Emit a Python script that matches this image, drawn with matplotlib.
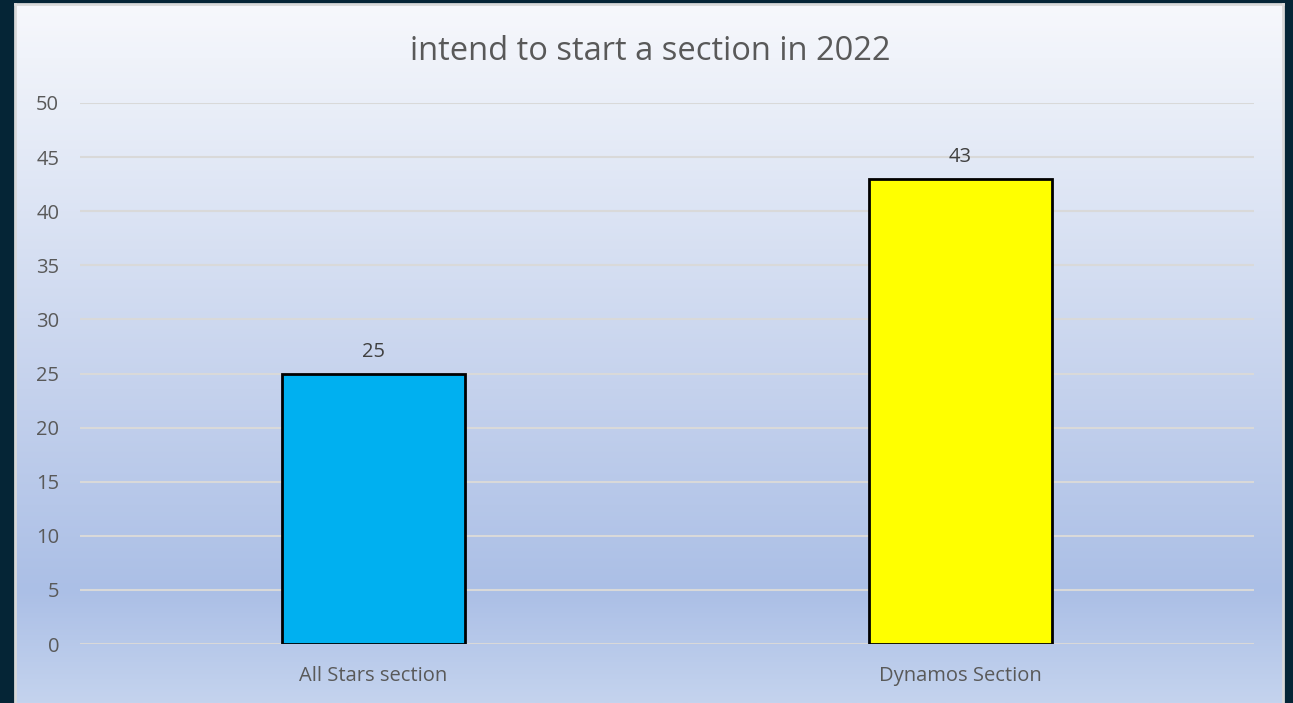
import numpy as np
from matplotlib import pyplot as plt
from matplotlib.colors import LinearSegmentedColormap

categories = ['All Stars section', 'Dynamos Section']
values = [25, 43]
bar_colors = ['#00b0f0', '#ffff00']
title = 'intend to start a section in 2022'

plt.rcParams['font.family'] = ['Open Sans', 'DejaVu Sans']

W, H = 1293, 703
fig = plt.figure(figsize=(W / 100, H / 100), dpi=100)
fig.patch.set_facecolor('#052536')

# panel with vertical gradient
bg = fig.add_axes([15 / W, 0, 1268 / W, 699 / H])
grad = LinearSegmentedColormap.from_list(
    'bg', [(0, '#f7f8fc'), (0.15, '#e9eef8'), (0.55, '#c5d2ed'),
           (0.84, '#abbfe6'), (1, '#c4d3ee')])
bg.imshow(np.linspace(0, 1, 256).reshape(-1, 1), aspect='auto', cmap=grad,
          extent=[0, 1, 0, 1], origin='upper')
bg.set_xticks([])
bg.set_yticks([])
for s in bg.spines.values():
    s.set_color('#d9d9d9')
    s.set_linewidth(2)
bg.spines['bottom'].set_visible(False)

ax = fig.add_axes([80 / W, (H - 644) / H, 1174 / W, 541 / H])
ax.patch.set_alpha(0)
x = np.arange(len(categories))
bars = ax.bar(x, values, width=0.312, color=bar_colors, edgecolor='black',
              linewidth=2, zorder=3)
for xi, v in zip(x, values):
    ax.text(xi, v + 1.1, str(v), ha='center', va='bottom', fontsize=14.5,
            color='#404040')

ax.set_xlim(-0.5, 1.5)
ax.set_ylim(0, 50)
ax.set_yticks(range(0, 51, 5))
ax.yaxis.grid(True, color='#d9d9d9', linewidth=1.5, zorder=0)
ax.set_xticks(x)
ax.set_xticklabels(categories)
ax.tick_params(axis='both', length=0, labelsize=14.5, labelcolor='#595959')
ax.tick_params(axis='x', pad=16)
ax.tick_params(axis='y', pad=15)
for s in ax.spines.values():
    s.set_visible(False)

fig.text(650 / W, 1 - 51 / H, title, ha='center', va='center', fontsize=23.5,
         color='#595959')

fig.savefig('out.png', dpi=100, facecolor=fig.get_facecolor())
